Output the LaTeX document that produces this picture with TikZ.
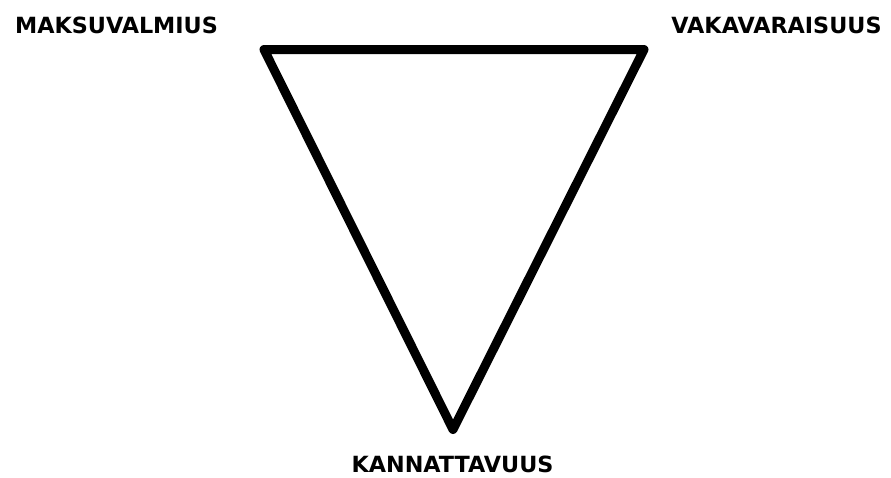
\documentclass[tikz,border=0pt]{standalone}
\usepackage{fontspec}
\setmainfont{DejaVu Sans}
\tikzset{lbl/.style={font=\bfseries\fontsize{22.3}{26}\selectfont,inner sep=0pt}}
\begin{document}
\begin{tikzpicture}[x=1pt,y=-1pt]
\useasboundingbox (0,0) rectangle (891,477);
\coordinate (maks) at (264,49.5);
\coordinate (vaka) at (644,49.5);
\coordinate (kann) at (453,429.5);
\draw[line width=9pt,line join=round] (maks)--(vaka)--(kann)--cycle;
\node[lbl] (tmaks) at (116.5,25) {MAKSUVALMIUS};
\node[lbl] (tvaka) at (776.5,25) {VAKAVARAISUUS};
\node[lbl] (tkann) at (452.5,464) {KANNATTAVUUS};
\end{tikzpicture}
\end{document}
